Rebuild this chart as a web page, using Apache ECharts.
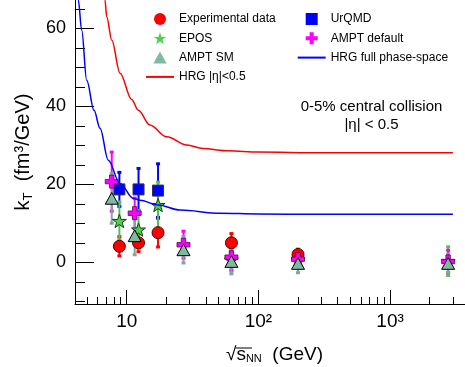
<!DOCTYPE html>
<html><head><meta charset="utf-8">
<script src="https://cdn.jsdelivr.net/npm/echarts@6/dist/echarts.min.js"></script>
<style>html,body{margin:0;padding:0;background:#fff}#c{width:465px;height:367px}</style>
</head><body><div id="c"></div>
<script>
// ---- data ----
const expX = [8.8, 12.3, 17.3, 62.4, 200];
const expY = [4.1, 5.0, 7.6, 5.0, 2.0];
const expE = [2.6, 2.4, 3.8, 2.5, 1.5];

const urqmdX = [8.8, 12.3, 17.3];
const urqmdY = [18.7, 18.7, 18.4];
const urqmdE = [4.5, 5.5, 7.0];

const eposX = [8.8, 12.3, 17.3, 62.4, 200, 2760];
const eposY = [10.6, 8.4, 14.7, 0.6, 0.6, 0.3];
const eposE = [5.0, 5.0, 6.0, 3.0, 2.0, 3.8];

const amptDefX = [7.7, 11.5, 27, 62.4, 200, 2760];
const amptDefY = [20.7, 12.6, 4.5, 1.3, 0.8, 0.2];
const amptDefE = [7.7, 4.0, 3.6, 3.4, 2.0, 3.0];

const amptSmX = [7.7, 11.5, 27, 62.4, 200, 2760];
const amptSmY = [16.4, 6.8, 3.2, 0.2, -0.3, -0.3];
const amptSmE = [6.5, 5.0, 3.5, 3.3, 2.5, 2.5];

const hrgEtaX = [6.55, 6.84, 7.05, 7.7, 8.9, 10.9, 12.25, 15.0, 20.1, 28.6, 38, 59, 100, 300, 1000, 3000];
const hrgEtaY = [72.0, 67.3, 63.0, 57.0, 48.5, 41.8, 39.0, 35.2, 32.2, 30.1, 29.2, 28.6, 28.3, 28.1, 28.1, 28.1];

const hrgFullX = [4.15, 4.29, 4.55, 4.97, 5.65, 6.27, 7.25, 8.89, 11.22, 12.6, 17.3, 25.4, 51, 100, 300, 3000];
const hrgFullY = [71.0, 67.3, 59.6, 46.7, 39.0, 34.4, 26.2, 20.2, 16.4, 15.95, 14.7, 13.4, 12.6, 12.4, 12.3, 12.3];

const yMajorTicks = [0, 20, 40, 60];
const yMinorTicks = [-10, -5, 5, 10, 15, 25, 30, 35, 45, 50, 55, 65];
const xMajorTicks = [10, 100, 1000];
const xTickLabels = ['10', '10\u00B2', '10\u00B3'];
const xMinorTicks = [5, 6, 7, 8, 9, 20, 30, 40, 50, 60, 70, 80, 90, 200, 300, 400, 500, 600, 700, 800, 900, 2000, 3000];

// ---- helpers ----
const FONT = 'Liberation Sans, Arial, Helvetica, sans-serif';
const STAR = 'path://M50,0 L61.8,35.1 L97.6,34.5 L68.8,56 L79.4,90.5 L50,70 L20.6,90.5 L31.2,56 L2.4,34.5 L38.2,35.1 Z';
const CROSS = 'path://M33,0H67V33H100V67H67V100H33V67H0V33H33Z';
const SQUARE = 'path://M0,0H100V100H0Z';
const TRI = 'path://M50,0L100,90H0Z';

function zip(xs, ys) { return xs.map((x, i) => [x, ys[i]]); }

function errSeries(id, xs, ys, es, color) {
  return {
    type: 'custom', name: id + '_err', xAxisIndex: 0, yAxisIndex: 0, clip: true,
    data: xs.map((x, i) => [x, ys[i], ys[i] - es[i], ys[i] + es[i]]),
    encode: { x: 0, y: [2, 3] },
    renderItem: (p, api) => {
      const x = api.value(0);
      const lo = api.coord([x, api.value(2)]);
      const hi = api.coord([x, api.value(3)]);
      return {
        type: 'group', children: [
          { type: 'line', shape: { x1: lo[0], y1: lo[1], x2: hi[0], y2: hi[1] }, style: { stroke: color, lineWidth: 2 } },
          { type: 'rect', shape: { x: lo[0] - 2, y: lo[1] - 2, width: 4, height: 3 }, style: { fill: color } },
          { type: 'rect', shape: { x: hi[0] - 2, y: hi[1] - 1, width: 4, height: 3 }, style: { fill: color } }
        ]
      };
    }
  };
}

function scatter(name, xs, ys, symbol, size, fill, border, bw) {
  return {
    type: 'scatter', name: name, xAxisIndex: 0, yAxisIndex: 0,
    data: zip(xs, ys), symbol: symbol, symbolSize: size, symbolKeepAspect: true,
    itemStyle: { color: fill, borderColor: border, borderWidth: bw, opacity: 1 },
    emphasis: { disabled: true }
  };
}

const chart = echarts.init(document.getElementById('c'), null, { renderer: 'canvas' });

const legendCommon = {
  orient: 'vertical', itemWidth: 28, itemHeight: 12, itemGap: 7.3, padding: 0,
  textStyle: { fontSize: 12, color: '#000', fontFamily: FONT },
  itemStyle: { borderWidth: 0 }, selectedMode: false
};

const option = {
  animation: false,
  backgroundColor: '#fff',
  textStyle: { fontFamily: FONT },
  grid: { left: 75, right: 0, top: 0, bottom: 63, containLabel: false },
  xAxis: [
    {
      type: 'log', logBase: 10, min: 4.05, max: 3707, position: 'bottom',
      axisLine: { show: true, onZero: false, lineStyle: { color: '#000', width: 1 } },
      axisTick: { show: true, inside: true, length: 14, customValues: xMajorTicks, lineStyle: { color: '#000' } },
      axisLabel: {
        show: true, customValues: xMajorTicks, margin: 8, fontSize: 19, color: '#000', fontFamily: FONT,
        formatter: v => { const i = xMajorTicks.indexOf(Math.round(v)); return i >= 0 ? xTickLabels[i] : ''; }
      },
      splitLine: { show: false }, minorTick: { show: false }
    },
    {
      type: 'log', logBase: 10, min: 4.05, max: 3707, position: 'bottom', offset: 0,
      axisLine: { show: false, onZero: false },
      axisTick: { show: true, inside: true, length: 7, customValues: xMinorTicks, lineStyle: { color: '#000' } },
      axisLabel: { show: false }, splitLine: { show: false }
    }
  ],
  yAxis: [
    {
      type: 'value', min: -10.7, max: 67.3, position: 'left',
      axisLine: { show: true, onZero: false, lineStyle: { color: '#000', width: 1 } },
      axisTick: { show: true, inside: true, length: 19, customValues: yMajorTicks, lineStyle: { color: '#000' } },
      axisLabel: { show: true, customValues: yMajorTicks, margin: 9, fontSize: 18, color: '#000', fontFamily: FONT },
      splitLine: { show: false },
      name: '{k|k}{sub|T}  (fm\u00B3/GeV)', nameLocation: 'middle', nameGap: 32, nameRotate: 90,
      nameTextStyle: {
        fontSize: 20, color: '#000', fontFamily: FONT,
        rich: { k: { fontSize: 20, fontFamily: FONT, color: '#000' }, sub: { fontSize: 13, fontFamily: FONT, color: '#000', padding: [10, 0, 0, 0] } }
      }
    },
    {
      type: 'value', min: -10.7, max: 67.3, position: 'left', offset: 0,
      axisLine: { show: false, onZero: false },
      axisTick: { show: true, inside: true, length: 10, customValues: yMinorTicks, lineStyle: { color: '#000' } },
      axisLabel: { show: false }, splitLine: { show: false }
    }
  ],
  legend: [
    Object.assign({}, legendCommon, {
      left: 145, top: 13,
      data: ['Experimental data', 'EPOS', 'AMPT SM', { name: 'HRG |\u03B7|<0.5', itemStyle: { opacity: 0 } }]
    }),
    Object.assign({}, legendCommon, {
      left: 296.7, top: 13,
      data: ['UrQMD', 'AMPT default', { name: 'HRG full phase-space', itemStyle: { opacity: 0 } }]
    })
  ],
  graphic: [
    { type: 'text', x: 371.5, y: 107, style: { text: '0-5% central collision', font: '15px ' + FONT, fill: '#000', align: 'center', verticalAlign: 'middle' } },
    { type: 'text', x: 371.5, y: 125, style: { text: '|\u03B7| < 0.5', font: '15px ' + FONT, fill: '#000', align: 'center', verticalAlign: 'middle' } },
    {
      type: 'text', x: 226, y: 345,
      style: {
        text: '{r|\u221A}{s|s}{sub|NN}{t|  (GeV)}', fill: '#000',
        rich: {
          r: { fontSize: 19, fontFamily: FONT, fill: '#000' },
          s: { fontSize: 19, fontFamily: FONT, fill: '#000' },
          sub: { fontSize: 11, fontFamily: FONT, fill: '#000', padding: [8, 0, 0, 0] },
          t: { fontSize: 19, fontFamily: FONT, fill: '#000' }
        }
      }
    },
    { type: 'line', shape: { x1: 235.5, y1: 348, x2: 252, y2: 348 }, style: { stroke: '#000', lineWidth: 1 } }
  ],
  series: [
    {
      type: 'line', name: 'HRG |\u03B7|<0.5', data: zip(hrgEtaX, hrgEtaY), showSymbol: false, symbol: 'none',
      smooth: 0.35, smoothMonotone: 'x', lineStyle: { color: '#ff0000', width: 1.5 }, itemStyle: { color: '#ff0000' }, clip: true
    },
    {
      type: 'line', name: 'HRG full phase-space', data: zip(hrgFullX, hrgFullY), showSymbol: false, symbol: 'none',
      smooth: 0.35, smoothMonotone: 'x', lineStyle: { color: '#0000ff', width: 1.5 }, itemStyle: { color: '#0000ff' }, clip: true
    },
    errSeries('exp', expX, expY, expE, '#ff0000'),
    scatter('Experimental data', expX, expY, 'circle', 12, '#ff0000', '#550000', 1),
    errSeries('urqmd', urqmdX, urqmdY, urqmdE, '#0000ff'),
    scatter('UrQMD', urqmdX, urqmdY, SQUARE, 11, '#0000ff', '#333333', 1),
    errSeries('epos', eposX, eposY, eposE, '#55c055'),
    scatter('EPOS', eposX, eposY, STAR, 14, '#4ed24e', '#1e3a1e', 1),
    errSeries('ampt_def', amptDefX, amptDefY, amptDefE, '#ff00ff'),
    scatter('AMPT default', amptDefX, amptDefY, CROSS, 13, '#ff00ff', '#550055', 0.8),
    errSeries('ampt_sm', amptSmX, amptSmY, amptSmE, '#7fa898'),
    scatter('AMPT SM', amptSmX, amptSmY, TRI, 13, '#7fbaa0', '#000000', 1)
  ]
};
chart.setOption(option);
</script>
</body></html>
